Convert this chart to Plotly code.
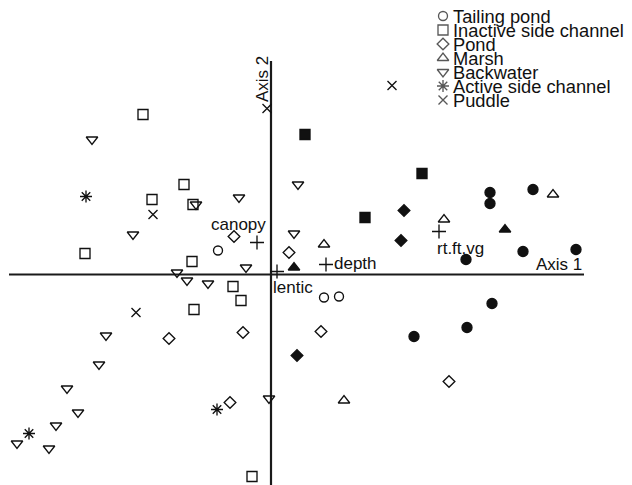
import plotly.graph_objects as go

# ---------------- data (ordination scores) ----------------
tailing_x = [-0.53, 0.53, 0.68]
tailing_y = [0.24, -0.23, -0.22]
tailing_f_x = [2.19, 2.19, 2.62, 1.95, 2.52, 3.05, 1.43, 1.96, 2.21]
tailing_f_y = [0.82, 0.71, 0.85, 0.15, 0.23, 0.25, -0.62, -0.53, -0.29]

inactive_x = [-1.28, -0.87, -1.19, -0.78, -1.86, -0.79, -0.38, -0.30, -0.77, -0.19]
inactive_y = [1.60, 0.90, 0.75, 0.70, 0.21, 0.13, -0.12, -0.26, -0.35, -2.02]
inactive_f_x = [0.34, 1.51, 0.94]
inactive_f_y = [1.40, 1.01, 0.57]

pond_x = [-0.37, 0.18, 0.50, -1.02, -0.28, -0.41, 1.78]
pond_y = [0.38, 0.22, -0.57, -0.64, -0.58, -1.28, -1.07]
pond_f_x = [1.33, 1.30, 0.26]
pond_f_y = [0.64, 0.34, -0.81]

marsh_x = [2.82, 1.73, 0.53, 0.73]
marsh_y = [0.80, 0.55, 0.30, -1.26]
marsh_f_x = [2.34, 0.23]
marsh_f_y = [0.45, 0.07]

backwater_x = [-1.79, -0.75, -0.32, 0.27, 0.23, -1.38, -0.25, -0.94, -0.84, -0.63,
               -1.65, -1.72, -2.04, -1.93, -2.15, -2.54, -2.22, -0.02]
backwater_y = [1.35, 0.70, 0.77, 0.90, 0.41, 0.40, 0.07, 0.02, -0.06, -0.09,
               -0.61, -0.90, -1.14, -1.38, -1.51, -1.69, -1.74, -1.24]

active_x = [-1.85, -2.42, -0.54]
active_y = [0.78, -1.59, -1.35]

puddle_x = [-0.04, 1.21, -1.18, -1.35]
puddle_y = [1.66, 1.89, 0.60, -0.38]

env_names = ["canopy", "depth", "lentic", "rt.ft.vg"]
env_x = [-0.14, 0.55, 0.06, 1.68]
env_y = [0.32, 0.10, 0.03, 0.43]

legend_names = ["Tailing pond", "Inactive side channel", "Pond", "Marsh",
                "Backwater", "Active side channel", "Puddle"]

# ---------------- styling / layout ----------------
PAGE_OFF = 8                      # default body margin of the page
W, H = 632 - PAGE_OFF, 485 - PAGE_OFF
# plot area (window pixels): x 9..584, y 8..485
PA_LEFT, PA_RIGHT, PA_TOP, PA_BOTTOM = 9, 584, 8, 485
ML, MR, MT, MB = PA_LEFT - PAGE_OFF, 632 - PA_RIGHT, PA_TOP - PAGE_OFF, 0
ORIGIN_X_PX, ORIGIN_Y_PX, PX_PER_UNIT = 271, 274.5, 100.0   # window pixels
AXIS2_TOP_PX = 61

def px2x(px):
    return (px - ORIGIN_X_PX) / PX_PER_UNIT

def px2y(py):
    return (ORIGIN_Y_PX - py) / PX_PER_UNIT

x_range = [px2x(PA_LEFT), px2x(PA_RIGHT)]
y_range = [px2y(PA_BOTTOM), px2y(PA_TOP)]

INK = "#111111"
FONT = "Liberation Sans, Arial, Helvetica, sans-serif"
FS = 17
FS_KEY = 18.3
LW = 1.35

fig = go.Figure()

# ordination axes
fig.add_shape(type="line", x0=x_range[0], x1=x_range[1], y0=0, y1=0,
              line=dict(color="#1a1a1a", width=2.2), layer="below")
fig.add_shape(type="line", x0=0, x1=0, y0=y_range[0], y1=px2y(AXIS2_TOP_PX),
              line=dict(color="#1a1a1a", width=2.2), layer="below")

def add(xs, ys, symbol, size, name):
    fig.add_trace(go.Scatter(
        x=xs, y=ys, mode="markers", name=name, showlegend=False,
        cliponaxis=False,
        marker=dict(symbol=symbol, size=size, color=INK,
                    line=dict(color=INK, width=LW)),
    ))

add(tailing_x, tailing_y, "circle-open", 9, "Tailing pond")
add(tailing_f_x, tailing_f_y, "circle", 10, "Tailing pond (filled)")
add(inactive_x, inactive_y, "square-open", 10, "Inactive side channel")
add(inactive_f_x, inactive_f_y, "square", 10, "Inactive side channel (filled)")
add(pond_x, pond_y, "diamond-open", 9, "Pond")
add(pond_f_x, pond_f_y, "diamond", 9, "Pond (filled)")
add(marsh_x, marsh_y, "triangle-up-open", 10, "Marsh")
add(marsh_f_x, marsh_f_y, "triangle-up", 10, "Marsh (filled)")
add(backwater_x, backwater_y, "triangle-down-open", 10, "Backwater")
add(active_x, active_y, "asterisk-open", 10, "Active side channel")
add(puddle_x, puddle_y, "x-thin-open", 9, "Puddle")

# environmental variables
add(env_x, env_y, "cross-thin-open", 10, "variables")
label_style = {
    "canopy": dict(xanchor="center", yanchor="middle", xshift=-19, yshift=18),
    "depth": dict(xanchor="left", yanchor="middle", xshift=6, yshift=1),
    "lentic": dict(xanchor="left", yanchor="middle", xshift=-6, yshift=-16),
    "rt.ft.vg": dict(xanchor="left", yanchor="middle", xshift=-4, yshift=-17),
}
for n, x, y in zip(env_names, env_x, env_y):
    fig.add_annotation(x=x, y=y, text=n, showarrow=False,
                       font=dict(family=FONT, size=FS, color=INK), **label_style[n])

# axis titles
fig.add_annotation(x=x_range[1], y=0, text="Axis 1", showarrow=False,
                   xanchor="right", yanchor="bottom", yshift=-1,
                   font=dict(family=FONT, size=FS, color=INK))
fig.add_annotation(x=0, y=px2y(79), text="Axis 2", showarrow=False, textangle=-90,
                   xanchor="center", yanchor="middle", xshift=-9,
                   font=dict(family=FONT, size=FS, color=INK))

# key (legend) drawn as symbols + labels
key_symbols = ["circle-open", "square-open", "diamond-open", "triangle-up-open",
               "triangle-down-open", "asterisk-open", "x-thin-open"]
key_sizes = [9, 10, 9, 10, 10, 10, 9]
KEY_X_PX, KEY_TEXT_PX, KEY_Y0_PX, KEY_STEP = 443, 451, 16, 14.0
key_py = [KEY_Y0_PX + i * KEY_STEP for i in range(len(legend_names))]
fig.add_trace(go.Scatter(
    x=[px2x(KEY_X_PX)] * len(legend_names),
    y=[px2y(p) for p in key_py],
    mode="markers", showlegend=False, cliponaxis=False, hoverinfo="skip",
    marker=dict(symbol=key_symbols, size=key_sizes, color=INK,
                line=dict(color=INK, width=LW)),
))
for name, p in zip(legend_names, key_py):
    fig.add_annotation(x=px2x(KEY_TEXT_PX), y=px2y(p),
                       text=name, showarrow=False,
                       xanchor="left", yanchor="middle",
                       font=dict(family=FONT, size=FS_KEY, color=INK))

axis_common = dict(showgrid=False, showticklabels=False, ticks="", showline=False,
                   zeroline=False, fixedrange=True)
fig.update_layout(
    width=W, height=H,
    margin=dict(l=ML, r=MR, t=MT, b=MB, pad=0),
    paper_bgcolor="white", plot_bgcolor="white",
    xaxis=dict(range=x_range, **axis_common),
    yaxis=dict(range=y_range, **axis_common),
    font=dict(family=FONT, size=FS, color=INK),
)

fig.write_html("out.html")
